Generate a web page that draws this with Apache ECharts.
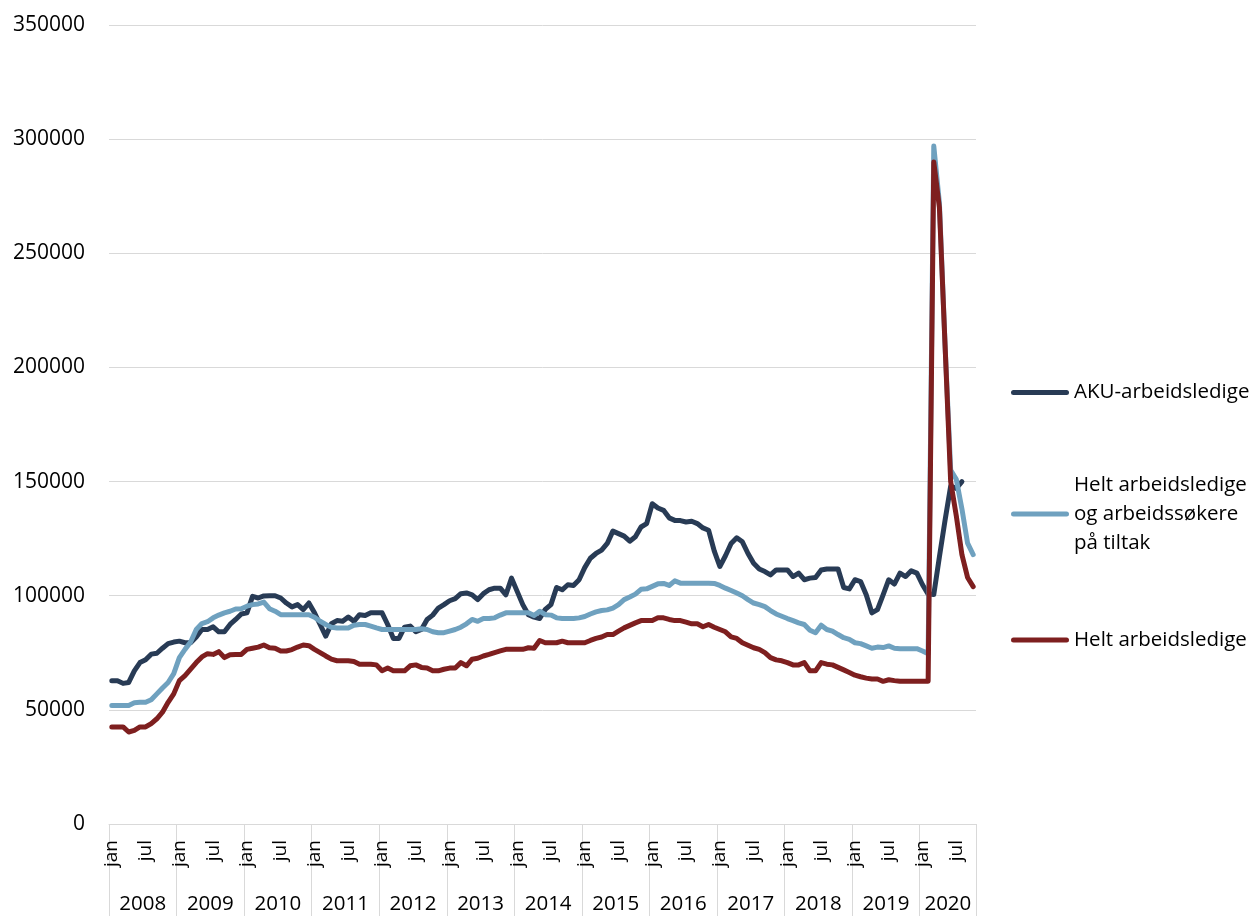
<!DOCTYPE html>
<html><head><meta charset="utf-8">
<script src="https://cdn.jsdelivr.net/npm/echarts@6/dist/echarts.min.js"></script>
<style>html,body{margin:0;padding:0;background:#fff}#c{width:1257px;height:916px}</style>
</head><body><div id="c"></div>
<script>
// ---- categories ----
const monthNames = ['jan','feb','mar','apr','mai','jun','jul','aug','sep','okt','nov','des'];
const years = [2008,2009,2010,2011,2012,2013,2014,2015,2016,2017,2018,2019,2020];
const monthsInLastYear = 10;
const shownMonthLabels = ['jan','jul'];

// ---- series names / legend labels ----
const seriesNames = ['AKU-arbeidsledige', 'Helt arbeidsledige og arbeidssøkere på tiltak', 'Helt arbeidsledige'];
const legendLabels = ['AKU-arbeidsledige', 'Helt arbeidsledige\nog arbeidssøkere\npå tiltak', 'Helt arbeidsledige'];

// ---- values (monthly, from jan 2008) ----
const aku = [
 62800,62800,61600,62000,67100,70700,71900,74400,74800,77000,79000,79700,
 80100,79400,79400,81900,85200,85200,86400,84200,84200,87400,89600,92000,
 92500,99700,99000,99900,100000,100000,99000,96800,95100,96100,93900,96800,
 92500,87400,82300,87700,89100,88800,90700,88800,91700,91300,92500,92500,
 92500,87400,81300,81300,86200,86700,84200,85200,89600,91500,94600,96100,
 97800,98700,100900,101200,100400,98300,100900,102600,103300,103300,100400,107700,
 101900,96100,91700,90600,90000,94000,96100,103600,102600,104800,104500,107000,
 112300,116400,118500,120000,122900,128300,127200,126100,123900,125800,130100,131600,
 140300,138400,137400,134100,133000,132900,132300,132600,131600,129700,128700,119600,
 112800,117500,122900,125400,123600,118500,114200,111700,110600,109100,111300,111300,
 111300,108400,109900,107000,107700,108000,111300,111700,111700,111700,103600,103000,
 107000,106200,100400,92500,93900,100400,107000,105100,109900,108400,110900,109900,
 104800,100700,100500,117000,133000,148000,147000,150000
];
const heltTiltak = [
 51900,51900,51900,51900,53100,53300,53300,54400,57000,59600,62000,65900,
 72900,76500,79700,85200,87800,88600,90300,91500,92500,93200,94200,94300,
 95400,96100,96400,97200,94300,93200,91700,91700,91700,91700,91700,91700,
 90600,88800,87400,86200,85900,85900,85900,87100,87400,87400,86700,85900,
 85200,85200,85200,85200,85200,85200,85200,85500,85200,84200,83800,83800,
 84500,85200,86200,87700,89600,88800,90000,90000,90300,91500,92500,92500,
 92500,92500,92500,91300,93200,91700,91500,90300,90000,90000,90000,90300,
 90900,92000,92900,93500,93800,94600,96100,98300,99400,100700,102800,103000,
 104100,105200,105400,104500,106500,105500,105500,105500,105500,105500,105500,105400,
 104500,103300,102300,101200,100000,98300,96800,96100,95200,93500,92000,91000,
 90000,89100,88100,87400,84900,83800,87100,85200,84500,83000,81600,80900,
 79400,79000,78000,77000,77500,77300,78000,77000,76800,76800,76800,76800,
 75800,74600,297000,272000,210000,155000,151000,138000,123000,118000
];
const helt = [
 42500,42500,42500,40300,41000,42500,42500,44000,46100,49000,53300,57000,
 62800,65000,67800,70700,73200,74600,74300,75500,72900,74100,74300,74300,
 76500,77000,77500,78400,77200,77000,75800,75800,76400,77500,78400,78100,
 76500,75100,73600,72200,71500,71500,71500,71200,70000,70000,70000,69700,
 67100,68300,67100,67100,67100,69300,69700,68600,68300,67100,67100,67800,
 68300,68300,70700,69300,72200,72600,73600,74300,75100,75800,76500,76500,
 76500,76500,77200,77000,80400,79400,79400,79400,80100,79400,79400,79400,
 79400,80400,81300,81900,83000,83000,84500,85900,87000,88100,89100,89100,
 89100,90300,90300,89600,89100,89100,88400,87700,87700,86400,87400,86200,
 85200,84200,82000,81300,79400,78300,77200,76500,75100,72900,71900,71500,
 70700,69700,69700,70700,67100,67100,70700,70000,69700,68600,67500,66400,
 65200,64500,63900,63500,63500,62500,63200,62800,62500,62500,62500,62500,
 62500,62500,290000,270000,210000,150000,135000,118000,108000,104000
];
const yMin = 0, yMax = 350000, yStep = 50000;

// ---- build categories ----
const cats = [], catMonth = [], yearStart = [], yearLen = [];
years.forEach((y, yi) => {
  const n = (yi === years.length - 1) ? monthsInLastYear : 12;
  yearStart.push(cats.length); yearLen.push(n);
  for (let m = 0; m < n; m++) { cats.push(monthNames[m] + ' ' + y); catMonth.push(m); }
});
const yearLabelAt = {};
years.forEach((y, yi) => { yearLabelAt[yearStart[yi] + Math.floor(yearLen[yi] / 2)] = String(y); });
const yearStartSet = new Set(yearStart);

const FONT = '"Open Sans", "Noto Sans", sans-serif';
const colors = ['#283b55', '#6fa1bf', '#7e1f1f'];
const bandW = (1257 - 109 - 281) / cats.length;

const chart = echarts.init(document.getElementById('c'), null, {renderer: 'canvas'});
const iconPath = 'path://M2.5,0L55.5,0A2.5,2.5,0,0,1,55.5,5L2.5,5A2.5,2.5,0,0,1,2.5,0Z';
function legendFor(i, top, extraText) {
  return {
    data: [seriesNames[i]], orient: 'vertical', left: 1011, top: top, padding: 0,
    itemWidth: 58, itemHeight: 5, icon: iconPath, selectedMode: false,
    formatter: () => legendLabels[i],
    textStyle: Object.assign({fontFamily: FONT, fontSize: 20.5, color: '#000', lineHeight: 29}, extraText || {})
  };
}
chart.setOption({
  animation: false,
  backgroundColor: '#fff',
  grid: {left: 109, right: 281, top: 25, bottom: 92, containLabel: false},
  legend: [
    legendFor(0, 378),
    legendFor(1, 441.5, {padding: [58, 0, 0, 0]}),
    legendFor(2, 625.5)
  ],
  xAxis: [
    {
      type: 'category', data: cats, position: 'bottom', boundaryGap: true,
      axisLine: {show: true, lineStyle: {color: '#d9d9d9', width: 1}},
      axisTick: {show: false},
      splitLine: {show: false},
      axisLabel: {
        interval: (i) => shownMonthLabels.indexOf(monthNames[catMonth[i]]) >= 0,
        formatter: (v, i) => monthNames[catMonth[i]],
        rotate: 90, margin: 16, padding: [12, 0, 0, 0],
        fontFamily: FONT, fontSize: 19, color: '#000'
      }
    },
    {
      type: 'category', data: cats, position: 'bottom', boundaryGap: true,
      axisLine: {show: false},
      axisTick: {show: true, interval: (i) => yearStartSet.has(i), length: 92, lineStyle: {color: '#d9d9d9', width: 1}},
      splitLine: {show: false},
      axisLabel: {
        interval: (i) => yearLabelAt[i] !== undefined,
        formatter: (v, i) => yearLabelAt[i] || '',
        margin: 70, padding: [0, bandW, 0, 0],
        fontFamily: FONT, fontSize: 20.5, color: '#000'
      }
    }
  ],
  yAxis: {
    type: 'value', min: yMin, max: yMax, interval: yStep,
    axisLine: {show: false}, axisTick: {show: false},
    splitLine: {lineStyle: {color: '#d9d9d9', width: 1}},
    axisLabel: {fontFamily: FONT, fontSize: 21, color: '#000', margin: 24, formatter: (v) => String(v)}
  },
  series: [
    {name: seriesNames[0], type: 'line', data: aku},
    {name: seriesNames[1], type: 'line', data: heltTiltak},
    {name: seriesNames[2], type: 'line', data: helt}
  ].map((s, i) => Object.assign(s, {
    xAxisIndex: 0, showSymbol: false, symbol: 'none', color: colors[i],
    lineStyle: {width: 5, color: colors[i], cap: 'round', join: 'round'},
    emphasis: {disabled: true}
  }))
});
</script></body></html>
